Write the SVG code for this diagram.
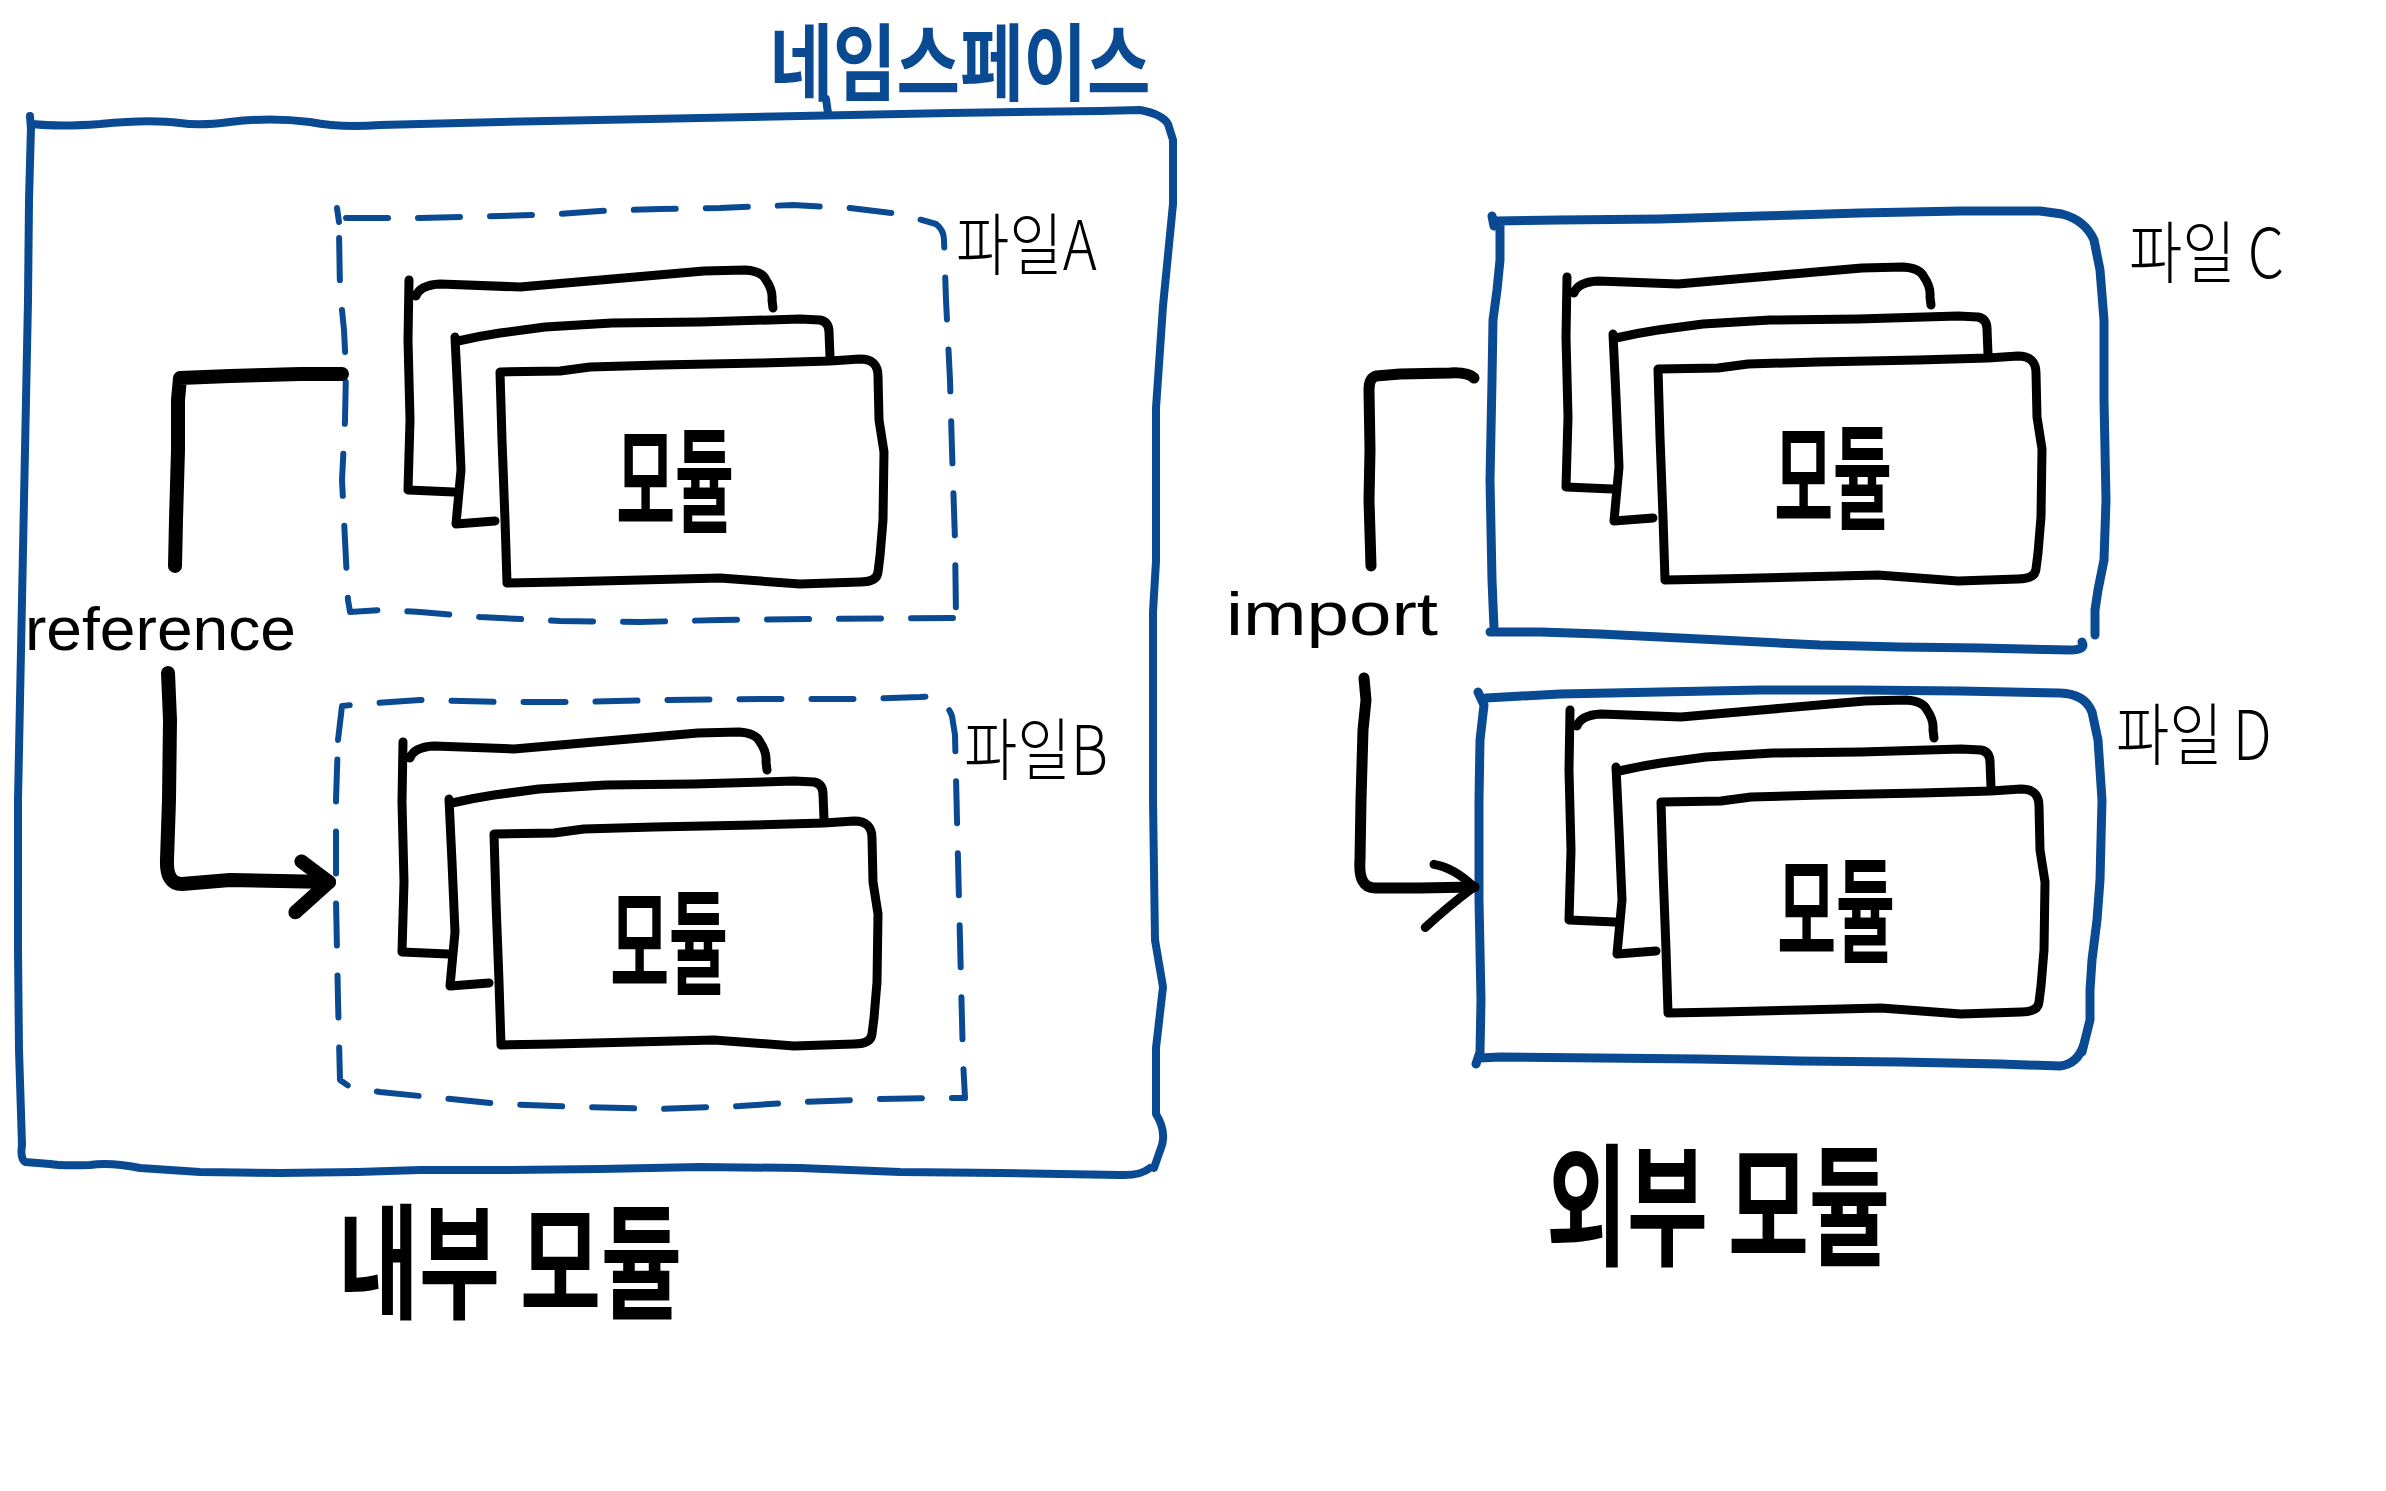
<svg xmlns="http://www.w3.org/2000/svg" xmlns:xlink="http://www.w3.org/1999/xlink" width="2386" height="1491" viewBox="0 0 2386 1491">
<style>
.blue{fill:none;stroke:#0a4a92;stroke-linecap:round;stroke-linejoin:round}
.ns{stroke-width:8}
.file{stroke-width:9}
.dash{stroke-width:6;stroke-dasharray:42 30}
.page{fill:none;stroke:#000;stroke-width:9;stroke-linecap:round;stroke-linejoin:round}
.front{fill:#fff}
.conn{fill:none;stroke:#000;stroke-linecap:round;stroke-linejoin:round}
.kr{font-family:'Noto Sans CJK KR','Noto Sans',sans-serif}
.mod{font-size:64px;font-weight:700;fill:#000}
.flabel{font-size:58px;font-weight:300;fill:#000}
.big{font-size:88px;font-weight:700;fill:#000}
.lat{font-family:'Liberation Sans',Arial,sans-serif;fill:#000}
</style>
<defs>
<marker id="arrRef" markerUnits="userSpaceOnUse" markerWidth="90" markerHeight="90" viewBox="-60 -45 80 90" refX="0" refY="0" orient="auto" overflow="visible">
<path d="M -28 -20 L 0 0 L -33 31" fill="none" stroke="#000" stroke-width="14" stroke-linecap="round" stroke-linejoin="round"/>
</marker>
<marker id="arrImp" markerUnits="userSpaceOnUse" markerWidth="90" markerHeight="90" viewBox="-70 -50 90 100" refX="0" refY="0" orient="auto" overflow="visible">
<path d="M -44 -26 Q -22 -22 0 0 Q -28 20 -55 44" fill="none" stroke="#000" stroke-width="10" stroke-linecap="round" stroke-linejoin="round"/>
</marker>
<g id="stack">
<path class="page" d="M 454 492 L 408 490 L 410 420 L 408 340 L 409 280 M 416 296 Q 420 285 440 284 L 520 287 L 612 279 L 704 271 L 745 270 Q 762 271 766 280 Q 773 290 772 300 L 773 308"/>
<path class="page" d="M 495 521 L 456 524 L 461 470 L 458 400 L 455 337 M 458 341 Q 480 336 500 333 L 545 327 L 612 323 L 700 322 L 800 319 L 820 320 Q 829 322 829 332 L 830 357"/>
<path class="page front" d="M 500 372 L 560 371 L 590 367 L 660 365 L 760 363 L 830 361 L 860 359 Q 878 359 878 376 L 879 420 L 884 452 L 883 520 L 880 556 L 878 572 Q 877 582 860 582 L 800 584 L 720 578 L 640 580 L 560 582 L 507 583 L 505 520 L 502 440 Z"/>
</g>
</defs>
<rect width="2386" height="1491" fill="#fff"/>

<g id="namespace">
<path class="blue ns" d="M 31 130 L 30 116 M 32 124 Q 60 127 100 124 Q 150 119 180 123 Q 200 126 230 122 Q 270 117 310 122 Q 340 128 380 125 L 500 122 L 650 119 L 800 116 L 950 113 L 1100 111 L 1140 110 Q 1162 114 1168 124 L 1173 140 L 1173 204 L 1163 306 L 1156 408 L 1156 561 L 1153 612 L 1153 800 L 1155 940 L 1163 987 L 1156 1048 L 1156 1114 Q 1166 1130 1162 1145 L 1154 1168 M 1150 1168 Q 1140 1176 1120 1175 L 1000 1173 L 900 1172 L 800 1168 L 700 1167 L 600 1169 L 510 1170 L 420 1170 L 357 1172 L 280 1173 L 200 1172 L 140 1168 Q 110 1162 90 1165 Q 60 1166 50 1164 L 25 1162 Q 20 1158 22 1145 L 19 1050 L 18 950 L 18 800 L 21 650 L 24 500 L 26 400 L 28 300 L 29 200 L 31 126"/>
<path class="blue ns" d="M 826 99 L 828 113"/>
<text class="kr" transform="translate(960,94) scale(1,1.22)" text-anchor="middle" font-size="69" font-weight="700" fill="#0a4a92">네임스페이스</text>
</g>

<g id="fileA">
<path class="blue dash" d="M 337 208 L 339 222 M 346 218 L 420 218 L 500 216 L 560 214 L 600 211 L 660 209 L 720 208 L 793 205 L 850 208 L 900 214 L 936 224 Q 944 230 944 240 L 946 300 L 950 380 L 952 450 L 955 540 L 956 616 M 953 618 L 820 619 L 720 620 L 640 622 L 560 621 L 480 617 L 420 612 L 380 610 L 350 612 L 348 600 L 345 540 L 342 480 L 345 420 L 346 370 L 344 330 L 340 290 L 339 230"/>
<text class="kr flabel" transform="translate(956,270) scale(1,1.18)">파일A</text>
<use xlink:href="#stack" href="#stack"/>
<text class="kr mod" transform="translate(675,523) scale(1,1.8)" text-anchor="middle">모듈</text>
</g>

<g id="fileB">
<path class="blue dash" d="M 338 740 L 342 706 L 360 704 L 420 700 L 500 702 L 580 702 L 660 700 L 760 699 L 860 699 L 920 697 L 936 696 Q 948 705 952 716 L 955 735 L 957 820 L 959 900 L 961 980 L 963 1060 L 965 1098 L 940 1098 L 880 1099 L 800 1102 L 740 1106 L 660 1109 L 580 1107 L 500 1104 L 440 1098 L 380 1092 L 350 1087 L 340 1080 L 338 1000 L 336 900 L 336 800 L 338 740"/>
<text class="kr flabel" transform="translate(964,775) scale(1,1.18)">파일B</text>
<use xlink:href="#stack" href="#stack" transform="translate(-6,462)"/>
<text class="kr mod" transform="translate(669,985) scale(1,1.8)" text-anchor="middle">모듈</text>
</g>

<g id="fileC">
<path class="blue file" d="M 1492 216 L 1494 226 M 1497 221 L 1560 220 L 1660 219 L 1760 216 L 1860 213 L 1960 211 L 2040 211 L 2062 214 Q 2085 220 2094 240 L 2100 270 L 2104 320 L 2104 400 L 2106 500 L 2104 560 L 2098 590 L 2095 610 L 2095 635 M 2082 642 Q 2086 650 2070 650 L 1980 648 L 1900 647 L 1820 645 L 1740 641 L 1660 637 L 1600 634 L 1540 632 L 1490 632 M 1494 628 L 1492 580 L 1490 480 L 1492 380 L 1493 320 L 1497 290 L 1500 260 L 1500 224"/>
<text class="kr flabel" transform="translate(2129,278) scale(1,1.18)">파일<tspan dx="12">C</tspan></text>
<use xlink:href="#stack" href="#stack" transform="translate(1158,-3)"/>
<text class="kr mod" transform="translate(1833,520) scale(1,1.8)" text-anchor="middle">모듈</text>
</g>

<g id="fileD">
<path class="blue file" d="M 1476 1064 L 1480 1052 L 1481 1000 L 1479 900 L 1479 800 L 1480 740 L 1484 705 L 1478 692 M 1486 698 L 1560 694 L 1660 692 L 1760 690 L 1860 690 L 1960 691 L 2060 693 Q 2085 694 2092 712 L 2098 740 L 2102 800 L 2100 880 L 2097 920 L 2092 960 L 2090 990 L 2090 1020 L 2085 1040 L 2082 1052 M 2084 1044 Q 2078 1064 2060 1066 L 2000 1064 L 1900 1062 L 1800 1061 L 1700 1059 L 1600 1058 L 1500 1057 L 1480 1058"/>
<text class="kr flabel" transform="translate(2116,760) scale(1,1.18)">파일<tspan dx="10">D</tspan></text>
<use xlink:href="#stack" href="#stack" transform="translate(1161,430)"/>
<text class="kr mod" transform="translate(1836,953) scale(1,1.8)" text-anchor="middle">모듈</text>
</g>

<g id="internal-label">
<text class="kr big" transform="translate(510,1309) scale(1,1.42)" text-anchor="middle">내부 모듈</text>
</g>
<g id="external-label">
<text class="kr big" transform="translate(1718,1255) scale(1,1.5)" text-anchor="middle" font-size="91">외부 모듈</text>
</g>

<g id="connectors">
<path class="conn" stroke-width="14" d="M 342 374 L 300 374 L 265 375 L 230 376 L 180 378 L 178 400 L 178 450 L 176 520 L 175 566"/>
<path class="conn" stroke-width="14" d="M 168 673 L 170 720 L 169 800 L 167 860 Q 166 884 182 884 L 230 880 L 280 881 L 329 882" marker-end="url(#arrRef)"/>
<text class="lat" x="25" y="650" font-size="62" textLength="271" lengthAdjust="spacingAndGlyphs">reference</text>
<path class="conn" stroke-width="11" d="M 1474 378 Q 1468 372 1450 373 L 1400 374 L 1376 376 Q 1369 378 1369 390 L 1370 450 L 1369 500 L 1371 566"/>
<path class="conn" stroke-width="11" d="M 1364 678 L 1366 700 L 1363 730 L 1361 800 L 1360 860 Q 1358 888 1375 888 L 1420 888 L 1474 887" marker-end="url(#arrImp)"/>
<text class="lat" x="1226" y="635" font-size="62" font-weight="300" textLength="212" lengthAdjust="spacingAndGlyphs">import</text>
</g>
</svg>
